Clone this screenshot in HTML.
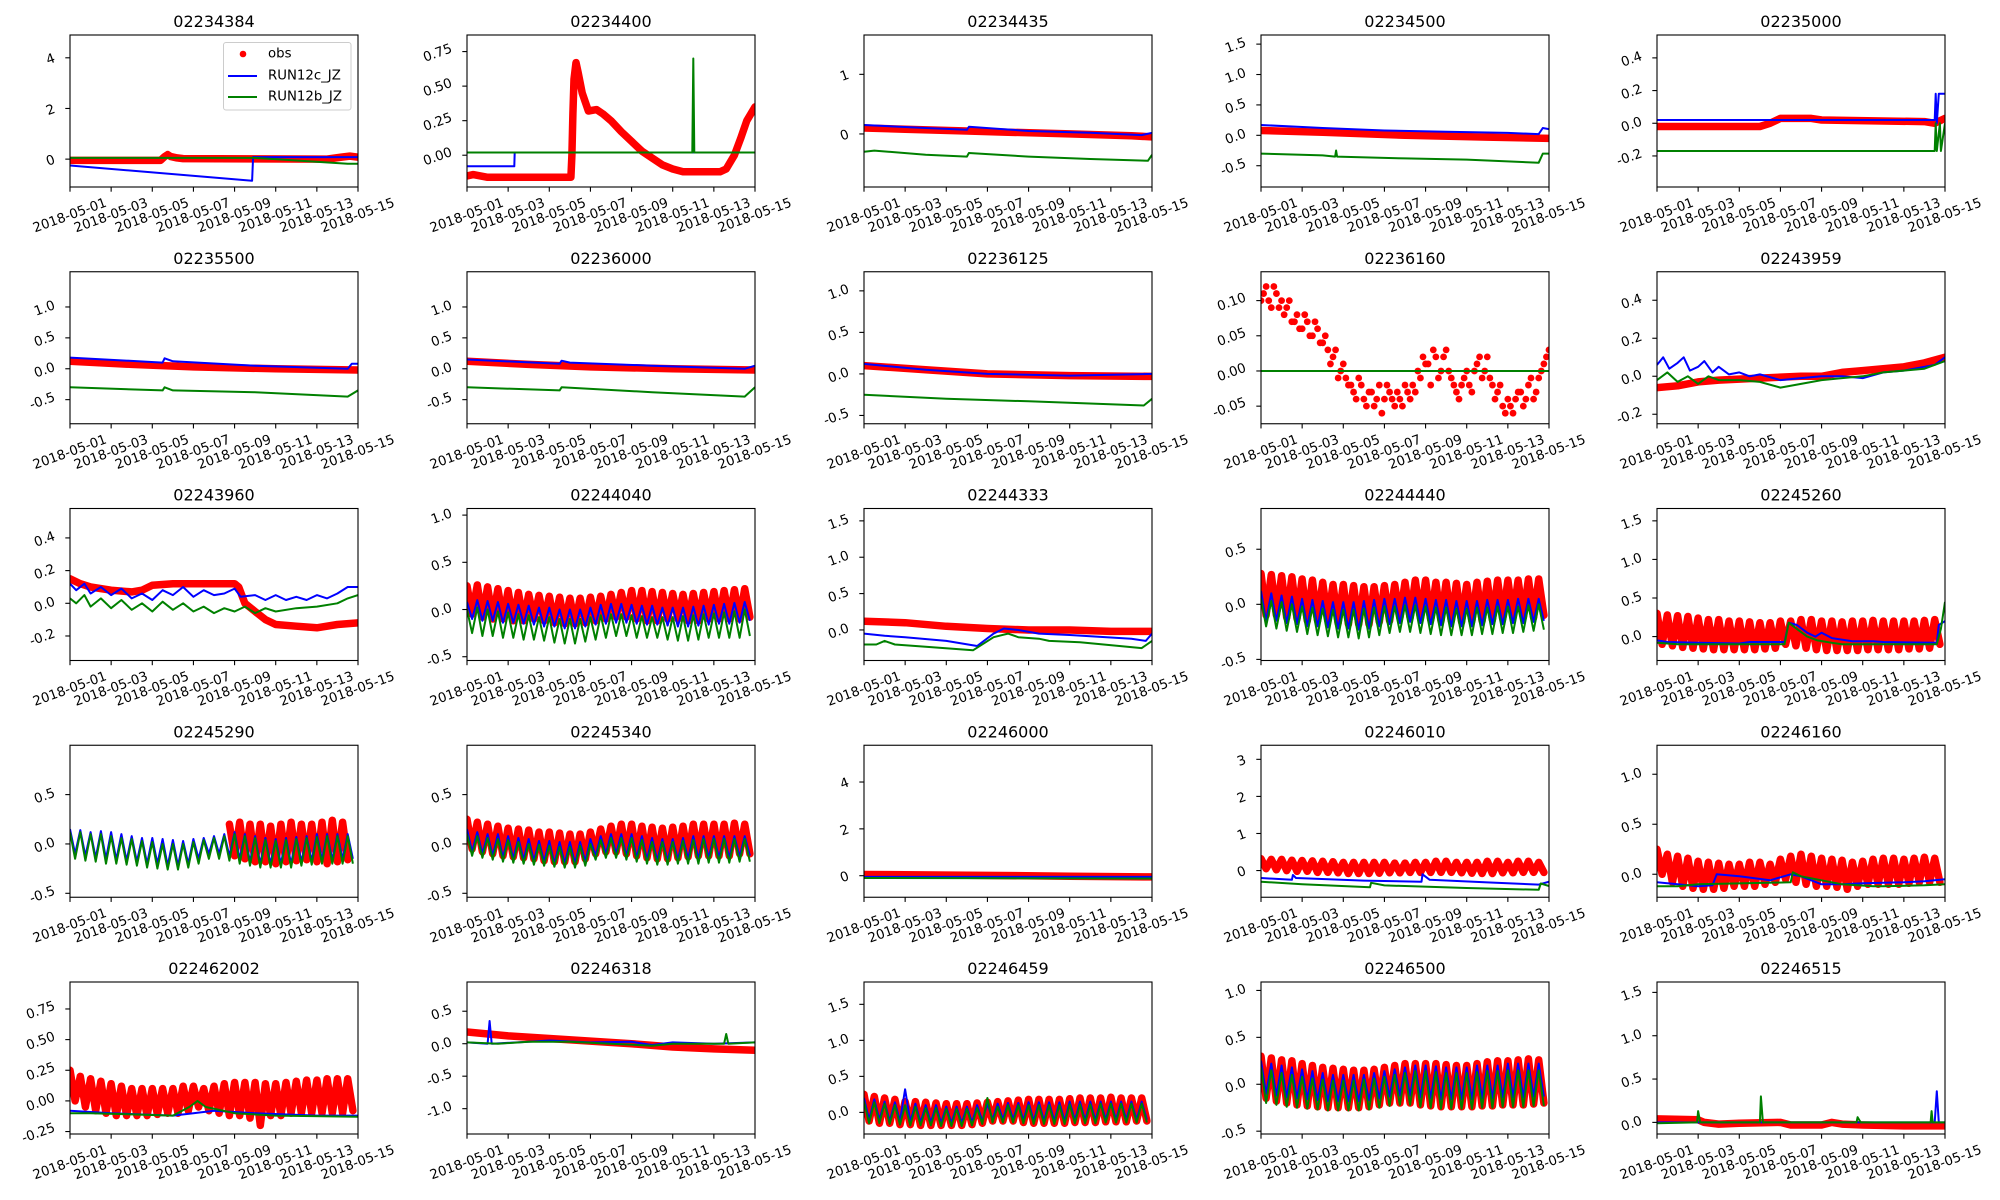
<!DOCTYPE html>
<html><head><meta charset="utf-8"><style>
html,body{margin:0;padding:0;background:#fff;}
svg{display:block;font-family:"DejaVu Sans","Liberation Sans",sans-serif;}
</style></head><body>
<svg id="fig" width="2000" height="1200" viewBox="0 0 2000 1200" xmlns="http://www.w3.org/2000/svg">
<rect width="2000" height="1200" fill="#fff"/>
</svg>
<script>
// ---- data ----
const xTickLabels = ["2018-05-01","2018-05-03","2018-05-05","2018-05-07","2018-05-09","2018-05-11","2018-05-13","2018-05-15"];
const xTickDays = [0,2,4,6,8,10,12,14];
const titles = ["02234384","02234400","02234435","02234500","02235000","02235500","02236000","02236125","02236160","02243959","02243960","02244040","02244333","02244440","02245260","02245290","02245340","02246000","02246010","02246160","022462002","02246318","02246459","02246500","02246515"];
const yRanges = [[-1.1,4.9],[-0.23,0.87],[-0.89,1.66],[-0.85,1.65],[-0.39,0.54],[-0.89,1.57],[-0.89,1.57],[-0.6,1.23],[-0.075,0.141],[-0.25,0.55],[-0.35,0.58],[-0.54,1.07],[-0.42,1.67],[-0.51,0.87],[-0.31,1.66],[-0.54,1.0],[-0.54,1.0],[-0.92,5.57],[-0.72,3.38],[-0.23,1.29],[-0.27,0.97],[-1.39,0.95],[-0.3,1.81],[-0.53,1.09],[-0.134,1.62]];
const yTicks = [[0,2,4],[0,0.25,0.5,0.75],[0,1],[-0.5,0,0.5,1,1.5],[-0.2,0,0.2,0.4],[-0.5,0,0.5,1],[-0.5,0,0.5,1],[-0.5,0,0.5,1],[-0.05,0,0.05,0.1],[-0.2,0,0.2,0.4],[-0.2,0,0.2,0.4],[-0.5,0,0.5,1],[0,0.5,1,1.5],[-0.5,0,0.5],[0,0.5,1,1.5],[-0.5,0,0.5],[-0.5,0,0.5],[0,2,4],[0,1,2,3],[0,0.5,1],[-0.25,0,0.25,0.5,0.75],[-1,-0.5,0,0.5],[0,0.5,1,1.5],[-0.5,0,0.5,1],[0,0.5,1,1.5]];
const yTickLabels = [["0","2","4"],["0.00","0.25","0.50","0.75"],["0","1"],["-0.5","0.0","0.5","1.0","1.5"],["-0.2","0.0","0.2","0.4"],["-0.5","0.0","0.5","1.0"],["-0.5","0.0","0.5","1.0"],["-0.5","0.0","0.5","1.0"],["-0.05","0.00","0.05","0.10"],["-0.2","0.0","0.2","0.4"],["-0.2","0.0","0.2","0.4"],["-0.5","0.0","0.5","1.0"],["0.0","0.5","1.0","1.5"],["-0.5","0.0","0.5"],["0.0","0.5","1.0","1.5"],["-0.5","0.0","0.5"],["-0.5","0.0","0.5"],["0","2","4"],["0","1","2","3"],["0.0","0.5","1.0"],["-0.25","0.00","0.25","0.50","0.75"],["-1.0","-0.5","0.0","0.5"],["0.0","0.5","1.0","1.5"],["-0.5","0.0","0.5","1.0"],["0.0","0.5","1.0","1.5"]];

const obsSeries = [
 {pts:[[0,-0.05],[4.4,-0.05],[4.6,0.1],[4.75,0.18],[4.9,0.1],[5.2,0.05],[5.5,0.02],[12.5,0.0],[13.2,0.08],[13.6,0.12],[14,0.08]]},
 {pts:[[0,-0.15],[0.3,-0.14],[1,-0.16],[2,-0.16],[3,-0.16],[4,-0.16],[5.05,-0.16],[5.1,0.0],[5.15,0.3],[5.2,0.55],[5.3,0.67],[5.4,0.6],[5.6,0.45],[5.9,0.32],[6.3,0.33],[6.6,0.3],[7,0.25],[7.5,0.17],[8,0.1],[8.5,0.03],[9,-0.02],[9.5,-0.07],[10,-0.1],[10.5,-0.12],[12.3,-0.12],[12.6,-0.1],[13,0.0],[13.3,0.12],[13.6,0.25],[14,0.35]]},
 {pts:[[0,0.1],[2,0.08],[5,0.05],[7,0.03],[10,0.0],[13,-0.03],[14,-0.05]]},
 {pts:[[0,0.08],[3,0.05],[7,0.0],[11,-0.03],[14,-0.05]]},
 {pts:[[0,-0.02],[5,-0.02],[5.5,0.0],[6,0.03],[7.5,0.03],[8,0.02],[13,0.01],[13.5,0.0],[14,0.03]]},
 {pts:[[0,0.12],[3,0.07],[6,0.03],[10,0.0],[14,-0.02]]},
 {pts:[[0,0.12],[3,0.07],[6,0.03],[10,0.0],[14,-0.02]]},
 {pts:[[0,0.1],[3,0.05],[6,0.0],[10,-0.02],[14,-0.03]]},
 {noisy:[0.10,0.12,0.09,0.11,0.10,0.09,0.07,0.08,0.06,0.07,0.05,0.06,0.04,0.03,0.02,-0.01,0.01,-0.02,-0.03,-0.01,-0.04,-0.03,-0.05,-0.02,-0.04,-0.03,-0.05,-0.04,-0.02,-0.04,-0.03,-0.01,0.01,-0.02,0.02,0.0,0.03,-0.01,-0.03,-0.02,0.0,-0.03,0.01,-0.01,0.02,-0.02,-0.03,-0.05,-0.04,-0.06,-0.03,-0.05,-0.02,-0.04,-0.01,0.01,0.03],
  noisy2:[0.11,0.10,0.12,0.09,0.08,0.10,0.07,0.06,0.08,0.05,0.07,0.04,0.05,0.01,0.03,0.0,-0.01,-0.02,-0.04,-0.02,-0.05,-0.03,-0.04,-0.06,-0.02,-0.04,-0.03,-0.05,-0.03,-0.02,0.0,0.02,0.01,0.03,-0.01,0.02,0.0,-0.02,-0.04,-0.01,-0.02,0.0,0.02,0.0,-0.01,-0.04,-0.02,-0.06,-0.05,-0.04,-0.03,-0.04,-0.01,-0.03,0.0,0.02]},
 {pts:[[0,-0.06],[1,-0.05],[2,-0.03],[3,-0.02],[5,-0.01],[7,0.0],[8,0.0],[9,0.02],[10,0.03],[11,0.04],[12,0.05],[13,0.07],[14,0.1]]},
 {pts:[[0,0.15],[0.5,0.12],[1,0.1],[2,0.08],[3,0.07],[3.5,0.08],[4,0.11],[5,0.12],[7,0.12],[8,0.12],[8.2,0.1],[8.5,0.0],[9,-0.05],[9.5,-0.1],[10,-0.13],[11,-0.14],[12,-0.15],[13,-0.13],[14,-0.12]]},
 {start:0,hi:[0.25,0.26,0.24,0.22,0.2,0.18,0.16,0.15,0.14,0.13,0.12,0.12,0.13,0.14,0.16,0.18,0.2,0.2,0.19,0.18,0.17,0.16,0.17,0.18,0.19,0.2,0.21,0.22],lo:[-0.05,-0.08,-0.1,-0.1,-0.12,-0.12,-0.1,-0.12,-0.14,-0.15,-0.15,-0.14,-0.12,-0.1,-0.08,-0.08,-0.1,-0.12,-0.12,-0.1,-0.1,-0.12,-0.12,-0.1,-0.1,-0.1,-0.1,-0.08]},
 {pts:[[0,0.12],[2,0.1],[4,0.05],[6,0.02],[8,0.0],[10,0.0],[12,-0.02],[14,-0.02]]},
 {start:0,hi:[0.28,0.27,0.26,0.25,0.23,0.22,0.2,0.18,0.18,0.17,0.16,0.16,0.17,0.18,0.2,0.22,0.22,0.2,0.2,0.19,0.18,0.2,0.21,0.22,0.22,0.22,0.23,0.23],lo:[-0.1,-0.1,-0.12,-0.13,-0.15,-0.15,-0.15,-0.17,-0.18,-0.18,-0.18,-0.16,-0.15,-0.12,-0.12,-0.12,-0.14,-0.15,-0.15,-0.16,-0.15,-0.15,-0.14,-0.13,-0.12,-0.12,-0.12,-0.1]},
 {start:0,hi:[0.3,0.28,0.27,0.26,0.24,0.22,0.22,0.2,0.2,0.19,0.18,0.18,0.2,0.2,0.22,0.22,0.2,0.2,0.19,0.2,0.2,0.21,0.2,0.2,0.2,0.2,0.21,0.22],lo:[-0.1,-0.12,-0.14,-0.15,-0.16,-0.17,-0.17,-0.17,-0.17,-0.17,-0.16,-0.15,-0.1,-0.12,-0.15,-0.17,-0.18,-0.18,-0.18,-0.18,-0.17,-0.17,-0.17,-0.17,-0.16,-0.16,-0.15,-0.1]},
 {start:7.75,hi:[0.2,0.22,0.2,0.2,0.18,0.2,0.22,0.2,0.2,0.22,0.24,0.22],lo:[-0.12,-0.15,-0.18,-0.18,-0.2,-0.18,-0.17,-0.16,-0.18,-0.2,-0.18,-0.16]},
 {start:0,hi:[0.25,0.22,0.2,0.18,0.16,0.15,0.14,0.12,0.12,0.11,0.1,0.1,0.12,0.15,0.18,0.2,0.2,0.18,0.17,0.16,0.17,0.18,0.2,0.2,0.2,0.2,0.21,0.2],lo:[-0.05,-0.08,-0.1,-0.12,-0.13,-0.14,-0.15,-0.17,-0.18,-0.18,-0.18,-0.15,-0.1,-0.08,-0.08,-0.1,-0.12,-0.14,-0.15,-0.15,-0.14,-0.13,-0.12,-0.12,-0.12,-0.12,-0.1,-0.1]},
 {pts:[[0,0.05],[5,0.02],[10,-0.02],[14,-0.05]]},
 {start:0,hi:[0.32,0.3,0.3,0.28,0.27,0.26,0.25,0.24,0.22,0.22,0.22,0.22,0.22,0.2,0.2,0.22,0.22,0.25,0.25,0.22,0.22,0.22,0.25,0.25,0.22,0.25,0.25,0.22],lo:[0.05,0.02,0.0,-0.02,-0.02,-0.05,-0.05,-0.06,-0.08,-0.08,-0.08,-0.07,-0.06,-0.06,-0.05,-0.05,-0.05,-0.05,-0.05,-0.06,-0.07,-0.08,-0.08,-0.06,-0.06,-0.05,-0.05,-0.05]},
 {start:0,hi:[0.25,0.2,0.18,0.16,0.13,0.12,0.11,0.1,0.1,0.12,0.12,0.1,0.15,0.18,0.2,0.18,0.16,0.15,0.14,0.12,0.13,0.15,0.16,0.16,0.15,0.16,0.17,0.16],lo:[0.0,-0.08,-0.12,-0.14,-0.15,-0.15,-0.14,-0.12,-0.12,-0.12,-0.1,-0.08,-0.05,-0.08,-0.1,-0.12,-0.12,-0.13,-0.15,-0.12,-0.1,-0.1,-0.1,-0.1,-0.09,-0.08,-0.08,-0.08]},
 {start:0,hi:[0.25,0.2,0.18,0.16,0.14,0.12,0.1,0.1,0.1,0.1,0.1,0.12,0.12,0.1,0.12,0.14,0.15,0.15,0.15,0.14,0.14,0.15,0.16,0.17,0.17,0.18,0.18,0.18],lo:[0.0,-0.05,-0.08,-0.1,-0.12,-0.12,-0.12,-0.12,-0.11,-0.1,-0.1,-0.08,-0.05,-0.08,-0.1,-0.12,-0.12,-0.14,-0.2,-0.12,-0.12,-0.1,-0.1,-0.1,-0.1,-0.1,-0.1,-0.08]},
 {pts:[[0,0.18],[2,0.12],[4,0.08],[6,0.04],[8,0.0],[10,-0.05],[12,-0.08],[14,-0.1]]},
 {start:0,hi:[0.25,0.22,0.2,0.18,0.15,0.15,0.14,0.13,0.12,0.12,0.12,0.13,0.14,0.15,0.16,0.17,0.18,0.18,0.18,0.18,0.19,0.2,0.2,0.2,0.21,0.2,0.2,0.2],lo:[-0.12,-0.15,-0.15,-0.17,-0.17,-0.18,-0.18,-0.18,-0.18,-0.18,-0.17,-0.15,-0.12,-0.12,-0.12,-0.14,-0.15,-0.15,-0.15,-0.15,-0.14,-0.14,-0.14,-0.13,-0.13,-0.13,-0.12,-0.12]},
 {start:0,hi:[0.3,0.28,0.26,0.25,0.22,0.2,0.18,0.17,0.16,0.15,0.15,0.16,0.18,0.2,0.22,0.22,0.22,0.22,0.21,0.2,0.2,0.22,0.24,0.25,0.25,0.26,0.27,0.26],lo:[-0.15,-0.18,-0.2,-0.22,-0.23,-0.24,-0.25,-0.25,-0.25,-0.25,-0.24,-0.22,-0.2,-0.2,-0.2,-0.22,-0.23,-0.24,-0.24,-0.24,-0.24,-0.23,-0.23,-0.22,-0.22,-0.22,-0.21,-0.2]},
 {pts:[[0,0.04],[2,0.03],[2.3,0.0],[3,-0.02],[4,-0.01],[6,0.0],[6.5,-0.03],[8,-0.03],[8.5,0.0],[9,-0.02],[10,-0.03],[12,-0.04],[14,-0.04]]}
];
const blueSeries = [
 {pts:[[0,-0.25],[8.85,-0.85],[8.9,0.08],[14,0.08]]},
 {pts:[[0,-0.08],[2.3,-0.08],[2.32,0.02],[14,0.02]]},
 {pts:[[0,0.15],[3,0.1],[5,0.07],[5.1,0.12],[8,0.05],[11,0.02],[13.5,-0.02],[14,0.02]]},
 {pts:[[0,0.17],[3,0.12],[6,0.08],[9,0.06],[12,0.04],[13.5,0.02],[13.7,0.12],[14,0.1]]},
 {pts:[[0,0.02],[13.5,0.02],[13.55,0.18],[13.6,0.0],[13.7,0.18],[14,0.18]]},
 {pts:[[0,0.18],[4.5,0.1],[4.6,0.17],[5,0.12],[9,0.05],[13.5,0.0],[13.7,0.08],[14,0.08]]},
 {pts:[[0,0.15],[4.5,0.08],[4.6,0.13],[5,0.1],[9,0.05],[13.5,0.0],[14,0.05]]},
 {pts:[[0,0.12],[3,0.05],[6,0.0],[10,-0.02],[14,0.0]]},
 {pts:[[0,0],[14,0]]},
 {pts:[[0,0.06],[0.3,0.1],[0.6,0.04],[1,0.07],[1.3,0.1],[1.6,0.03],[2,0.05],[2.3,0.08],[2.7,0.02],[3,0.05],[3.5,0.01],[4,0.02],[4.5,0.0],[5,0.01],[6,-0.02],[7,-0.01],[8,0.0],[9,0.0],[10,-0.01],[11,0.02],[12,0.03],[13,0.05],[13.5,0.06],[14,0.1]]},
 {pts:[[0,0.12],[0.3,0.08],[0.7,0.12],[1,0.06],[1.5,0.1],[2,0.05],[2.5,0.09],[3,0.03],[3.5,0.06],[4,0.02],[4.5,0.08],[5,0.05],[5.5,0.1],[6,0.04],[6.5,0.08],[7,0.05],[7.5,0.06],[8,0.09],[8.3,0.04],[9,0.05],[9.5,0.02],[10,0.05],[10.5,0.02],[11,0.04],[11.5,0.02],[12,0.05],[12.5,0.03],[13,0.06],[13.5,0.1],[14,0.1]]},
 {start:0,hi:[0.08,0.1,0.09,0.08,0.06,0.05,0.04,0.02,0.02,0.0,0.0,0.0,0.02,0.05,0.06,0.06,0.05,0.04,0.04,0.02,0.02,0.02,0.03,0.04,0.05,0.06,0.07,0.08],lo:[-0.1,-0.12,-0.12,-0.14,-0.14,-0.15,-0.16,-0.18,-0.18,-0.2,-0.2,-0.18,-0.16,-0.15,-0.14,-0.14,-0.15,-0.16,-0.16,-0.17,-0.18,-0.18,-0.17,-0.16,-0.15,-0.15,-0.14,-0.12]},
 {pts:[[0,-0.05],[1,-0.08],[2,-0.1],[4,-0.15],[5.5,-0.22],[6.3,-0.05],[6.8,0.02],[7.5,0.0],[8.5,-0.05],[10,-0.07],[13,-0.12],[13.7,-0.15],[14,-0.05]]},
 {start:0,hi:[0.12,0.1,0.08,0.07,0.05,0.04,0.03,0.02,0.02,0.02,0.03,0.04,0.05,0.05,0.06,0.06,0.05,0.04,0.04,0.03,0.03,0.03,0.04,0.04,0.04,0.05,0.05,0.05],lo:[-0.15,-0.15,-0.17,-0.18,-0.2,-0.2,-0.21,-0.22,-0.22,-0.23,-0.22,-0.2,-0.18,-0.17,-0.16,-0.17,-0.18,-0.19,-0.2,-0.2,-0.2,-0.19,-0.18,-0.18,-0.17,-0.17,-0.16,-0.15]},
 {pts:[[0,-0.05],[0.5,-0.07],[2,-0.08],[4,-0.09],[4.5,-0.07],[6.2,-0.07],[6.4,0.18],[6.8,0.15],[7.3,0.05],[7.7,0.0],[8,0.05],[8.5,-0.02],[9.5,-0.06],[10.5,-0.06],[11,-0.07],[13.6,-0.08],[13.7,0.15],[14,0.2]]},
 {start:0,hi:[0.15,0.14,0.12,0.13,0.12,0.1,0.08,0.06,0.06,0.05,0.04,0.03,0.05,0.06,0.08,0.1,0.12,0.1,0.08,0.06,0.05,0.06,0.07,0.08,0.1,0.1,0.1,0.1],lo:[-0.1,-0.12,-0.14,-0.15,-0.16,-0.17,-0.18,-0.2,-0.2,-0.22,-0.22,-0.2,-0.15,-0.1,-0.1,-0.12,-0.15,-0.18,-0.2,-0.2,-0.2,-0.2,-0.18,-0.17,-0.16,-0.16,-0.15,-0.15]},
 {start:0,hi:[0.15,0.12,0.1,0.1,0.08,0.06,0.05,0.03,0.03,0.02,0.02,0.02,0.05,0.08,0.1,0.1,0.1,0.08,0.06,0.05,0.05,0.06,0.08,0.08,0.08,0.08,0.08,0.08],lo:[-0.08,-0.1,-0.12,-0.14,-0.15,-0.16,-0.17,-0.18,-0.2,-0.2,-0.2,-0.18,-0.12,-0.1,-0.1,-0.12,-0.14,-0.16,-0.17,-0.17,-0.16,-0.15,-0.15,-0.14,-0.14,-0.14,-0.13,-0.12]},
 {pts:[[0,-0.05],[14,-0.05]]},
 {pts:[[0,-0.2],[1.5,-0.25],[1.55,-0.12],[1.7,-0.2],[5,-0.27],[7.8,-0.3],[7.85,-0.1],[8.2,-0.25],[11,-0.32],[13.5,-0.38],[14,-0.3]]},
 {pts:[[0,-0.08],[1,-0.1],[2,-0.12],[2.7,-0.11],[2.9,0.0],[4,-0.02],[5.5,-0.06],[6.5,0.0],[7,-0.02],[8,-0.1],[9,-0.1],[10,-0.09],[12,-0.08],[13,-0.07],[14,-0.05]]},
 {pts:[[0,-0.08],[2,-0.1],[5,-0.12],[6,-0.1],[7,-0.08],[9,-0.1],[12,-0.12],[14,-0.12]]},
 {pts:[[0,0.02],[1,0.0],[1.1,0.35],[1.2,0.0],[3,0.03],[4,0.05],[6,0.02],[8,0.03],[9,-0.02],[10,0.02],[12,0.0],[14,0.02]]},
 {start:0,hi:[0.2,0.18,0.15,0.14,0.32,0.12,0.1,0.1,0.08,0.08,0.08,0.1,0.12,0.12,0.13,0.13,0.14,0.14,0.14,0.14,0.15,0.15,0.15,0.15,0.15,0.15,0.15,0.15],lo:[-0.1,-0.1,-0.12,-0.12,-0.13,-0.14,-0.14,-0.15,-0.15,-0.15,-0.14,-0.12,-0.1,-0.1,-0.1,-0.11,-0.12,-0.12,-0.12,-0.12,-0.11,-0.11,-0.11,-0.1,-0.1,-0.1,-0.1,-0.1]},
 {start:0,hi:[0.25,0.22,0.2,0.18,0.16,0.14,0.12,0.1,0.1,0.1,0.1,0.12,0.14,0.16,0.18,0.2,0.2,0.19,0.18,0.18,0.18,0.2,0.2,0.2,0.22,0.22,0.22,0.22],lo:[-0.1,-0.12,-0.14,-0.15,-0.16,-0.17,-0.18,-0.18,-0.18,-0.18,-0.17,-0.15,-0.13,-0.12,-0.12,-0.14,-0.15,-0.16,-0.16,-0.16,-0.16,-0.15,-0.15,-0.14,-0.14,-0.14,-0.13,-0.13]},
 {pts:[[0,0.0],[13.5,0.0],[13.6,0.36],[13.7,0.0],[14,0.0]]}
];
const greenSeries = [
 {pts:[[0,0.05],[9,0.05],[13.5,-0.18],[14,-0.18]]},
 {pts:[[0,0.02],[10.95,0.02],[11,0.7],[11.05,0.02],[14,0.02]]},
 {pts:[[0,-0.3],[0.5,-0.28],[3,-0.35],[5,-0.38],[5.1,-0.32],[8,-0.38],[11,-0.42],[13.8,-0.45],[14,-0.35]]},
 {pts:[[0,-0.3],[3,-0.33],[3.6,-0.35],[3.65,-0.25],[3.7,-0.35],[7,-0.38],[10,-0.4],[13.5,-0.45],[13.7,-0.3],[14,-0.3]]},
 {pts:[[0,-0.17],[13.5,-0.17],[13.55,0.0],[13.6,-0.17],[13.75,0.0],[13.8,-0.17],[14,0.0]]},
 {pts:[[0,-0.3],[4.5,-0.35],[4.6,-0.3],[5,-0.35],[9,-0.38],[13.5,-0.45],[14,-0.35]]},
 {pts:[[0,-0.3],[4.5,-0.35],[4.6,-0.3],[9,-0.38],[13.5,-0.45],[14,-0.3]]},
 {pts:[[0,-0.25],[4,-0.3],[8,-0.33],[13.6,-0.38],[14,-0.3]]},
 {pts:[[0,0],[14,0]]},
 {pts:[[0,-0.02],[0.5,0.02],[1,-0.03],[1.5,0.0],[2,-0.04],[2.5,0.0],[3,-0.02],[4,-0.02],[5,-0.03],[6,-0.06],[7,-0.04],[8,-0.02],[9,-0.01],[10,0.0],[11,0.02],[12,0.03],[13,0.04],[14,0.08]]},
 {pts:[[0,0.03],[0.3,0.0],[0.7,0.05],[1,-0.02],[1.5,0.03],[2,-0.03],[2.5,0.02],[3,-0.04],[3.5,0.0],[4,-0.05],[4.5,0.01],[5,-0.04],[5.5,0.0],[6,-0.05],[6.5,-0.02],[7,-0.06],[7.5,-0.03],[8,-0.05],[8.5,-0.02],[9,-0.06],[9.5,-0.03],[10,-0.05],[11,-0.03],[12,-0.02],[13,0.0],[13.5,0.03],[14,0.05]]},
 {start:0,hi:[0.0,0.02,0.0,-0.02,-0.03,-0.05,-0.06,-0.08,-0.08,-0.1,-0.1,-0.1,-0.08,-0.06,-0.05,-0.05,-0.06,-0.07,-0.08,-0.08,-0.08,-0.07,-0.06,-0.05,-0.04,-0.03,-0.02,0.0],lo:[-0.25,-0.28,-0.28,-0.3,-0.3,-0.32,-0.32,-0.33,-0.35,-0.36,-0.36,-0.34,-0.32,-0.3,-0.28,-0.28,-0.3,-0.3,-0.3,-0.32,-0.33,-0.33,-0.32,-0.3,-0.3,-0.3,-0.3,-0.28]},
 {pts:[[0,-0.2],[0.6,-0.2],[1,-0.15],[1.5,-0.2],[3,-0.23],[5.3,-0.28],[6.3,-0.1],[7,-0.05],[7.5,-0.1],[8.5,-0.12],[9,-0.15],[10.5,-0.17],[13.5,-0.25],[14,-0.15]]},
 {start:0,hi:[0.05,0.03,0.02,0.0,-0.02,-0.03,-0.04,-0.05,-0.05,-0.05,-0.04,-0.03,-0.02,-0.02,-0.01,-0.01,-0.02,-0.03,-0.03,-0.04,-0.04,-0.03,-0.03,-0.02,-0.02,-0.02,-0.01,0.0],lo:[-0.2,-0.22,-0.24,-0.25,-0.27,-0.28,-0.29,-0.3,-0.3,-0.31,-0.3,-0.28,-0.26,-0.25,-0.25,-0.26,-0.27,-0.28,-0.28,-0.28,-0.28,-0.27,-0.27,-0.26,-0.26,-0.25,-0.24,-0.23]},
 {pts:[[0,-0.08],[1,-0.1],[4,-0.1],[6.2,-0.1],[6.4,0.18],[6.8,0.1],[7.3,0.0],[7.8,-0.05],[8.5,-0.08],[9,-0.1],[13.6,-0.1],[13.8,0.1],[14,0.45]]},
 {start:0,hi:[0.12,0.12,0.1,0.1,0.08,0.06,0.05,0.03,0.02,0.0,0.0,0.0,0.02,0.04,0.06,0.08,0.1,0.08,0.06,0.04,0.03,0.04,0.05,0.06,0.07,0.08,0.08,0.08],lo:[-0.15,-0.17,-0.18,-0.2,-0.2,-0.21,-0.22,-0.24,-0.25,-0.26,-0.26,-0.24,-0.2,-0.15,-0.15,-0.17,-0.2,-0.22,-0.24,-0.24,-0.24,-0.24,-0.22,-0.21,-0.2,-0.2,-0.2,-0.2]},
 {start:0,hi:[0.1,0.08,0.06,0.05,0.04,0.02,0.0,-0.01,-0.02,-0.03,-0.03,-0.02,0.0,0.04,0.06,0.06,0.06,0.04,0.02,0.02,0.02,0.03,0.04,0.05,0.05,0.05,0.05,0.05],lo:[-0.12,-0.14,-0.16,-0.18,-0.19,-0.2,-0.21,-0.22,-0.23,-0.24,-0.24,-0.22,-0.16,-0.14,-0.14,-0.16,-0.18,-0.2,-0.21,-0.21,-0.2,-0.2,-0.2,-0.19,-0.19,-0.19,-0.18,-0.18]},
 {pts:[[0,-0.1],[14,-0.12]]},
 {pts:[[0,-0.3],[2,-0.37],[5.3,-0.45],[5.35,-0.33],[6,-0.4],[10,-0.47],[13.5,-0.52],[13.6,-0.35],[14,-0.42]]},
 {pts:[[0,-0.12],[1,-0.12],[2,-0.1],[6.5,-0.08],[6.6,0.02],[7,-0.02],[8,-0.06],[9,-0.1],[10.5,-0.12],[11,-0.12],[13,-0.11],[14,-0.1]]},
 {pts:[[0,-0.1],[1,-0.1],[5,-0.12],[5.8,-0.05],[6.2,0.0],[6.6,-0.05],[8,-0.1],[10,-0.12],[14,-0.13]]},
 {pts:[[0,0.02],[1.5,0.0],[3,0.03],[5,0.03],[7,0.0],[9,-0.03],[10,0.0],[12.5,0.0],[12.6,0.15],[12.7,0.0],[14,0.02]]},
 {start:0,hi:[0.15,0.14,0.12,0.1,0.1,0.08,0.06,0.06,0.05,0.05,0.05,0.06,0.2,0.08,0.1,0.1,0.1,0.1,0.1,0.1,0.11,0.11,0.11,0.12,0.12,0.12,0.12,0.12],lo:[-0.15,-0.15,-0.16,-0.17,-0.18,-0.18,-0.18,-0.19,-0.19,-0.19,-0.18,-0.16,-0.14,-0.14,-0.14,-0.15,-0.16,-0.16,-0.16,-0.16,-0.15,-0.15,-0.15,-0.14,-0.14,-0.14,-0.14,-0.14]},
 {start:0,hi:[0.18,0.15,0.12,0.1,0.08,0.06,0.05,0.04,0.04,0.04,0.05,0.06,0.08,0.1,0.12,0.14,0.14,0.13,0.12,0.12,0.12,0.13,0.14,0.14,0.15,0.15,0.15,0.15],lo:[-0.2,-0.22,-0.24,-0.25,-0.26,-0.27,-0.28,-0.28,-0.28,-0.28,-0.27,-0.25,-0.23,-0.22,-0.22,-0.24,-0.25,-0.26,-0.26,-0.26,-0.26,-0.25,-0.25,-0.24,-0.24,-0.24,-0.23,-0.23]},
 {pts:[[0,-0.01],[1.95,0.0],[2.0,0.13],[2.1,0.0],[5,0.0],[5.05,0.3],[5.15,0.0],[9.7,0.0],[9.75,0.06],[9.9,0.0],[13.3,0.0],[13.35,0.13],[13.4,0.0],[14,0.0]]}
];

// ---- layout ----
const NS = "http://www.w3.org/2000/svg";
const svg = document.getElementById('fig');
const colLefts = [70,467,864,1261,1657];
const W = 288, H = 152;
const ROW0 = 35, ROWSTEP = 236.75;
const DAYS = 14;

function mk(tag, attrs, parent){
  const e = document.createElementNS(NS, tag);
  for (const k in attrs) e.setAttribute(k, attrs[k]);
  (parent||svg).appendChild(e);
  return e;
}
function toPts(s){
  if (s.pts) return s.pts;
  if (s.noisy){
    const a = s.noisy.map((v,i)=>[i*DAYS/(s.noisy.length-1), v]);
    if (s.noisy2) s.noisy2.forEach((v,i)=>a.push([(i+0.5)*DAYS/(s.noisy.length-1), v]));
    return a;
  }
  const out = [];
  for (let i=0;i<s.hi.length;i++){
    out.push([s.start + i*0.5, s.hi[i]]);
    out.push([s.start + i*0.5 + 0.25, s.lo[i]]);
  }
  return out;
}

titles.forEach((title, p) => {
  const r = Math.floor(p/5), c = p%5;
  const L = colLefts[c], T = ROW0 + r*ROWSTEP, B = T + H;
  const [y0, y1] = yRanges[p];
  const sx = d => L + d/DAYS*W;
  const sy = v => B - (v - y0)/(y1 - y0)*H;

  const g = mk('g', {});
  
  

  const cp = mk('clipPath', {id:'clip'+p}, g);
  mk('rect', {x:L, y:T, width:W, height:H}, cp);

  const t = mk('text', {x:L+W/2, y:T-8, 'text-anchor':'middle', 'font-size':'16', fill:'#000'}, g);
  
  
  t.textContent = title;

  const plot = mk('g', {'clip-path':'url(#clip'+p+')'}, g);
  
  

  const o = obsSeries[p];
  const op = toPts(o);
  if (o.noisy){
    op.forEach(([d,v]) => {
      const c1 = mk('circle', {cx:sx(d), cy:sy(v), r:3.4, fill:'#ff0000'}, plot);
      
      
    });
  } else {
    const pl = mk('polyline', {points: op.map(([d,v])=>sx(d).toFixed(1)+','+sy(v).toFixed(1)).join(' '), fill:'none', stroke:'#ff0000', 'stroke-width':7.5, 'stroke-linejoin':'round', 'stroke-linecap':'round'}, plot);
    
    
  }
  [[blueSeries[p], '#0000ff', 'run12c-line'], [greenSeries[p], '#008000', 'run12b-line']].forEach(([s, col, nm]) => {
    const pts = toPts(s);
    const pl = mk('polyline', {points: pts.map(([d,v])=>sx(d).toFixed(1)+','+sy(v).toFixed(1)).join(' '), fill:'none', stroke:col, 'stroke-width':2, 'stroke-linejoin':'round'}, plot);
    
    
  });

  const fr = mk('rect', {x:L, y:T, width:W, height:H, fill:'none', stroke:'#000', 'stroke-width':1.1}, g);
  
  

  xTickDays.forEach((d, i) => {
    const x = sx(d);
    mk('line', {x1:x, y1:B, x2:x, y2:B+4.7, stroke:'#000', 'stroke-width':1.1}, g);
    const cy = B + 29;
    const tx = mk('text', {x:x, y:cy, 'text-anchor':'middle', 'dominant-baseline':'central', 'font-size':'13.3', fill:'#000', transform:`rotate(-20 ${x} ${cy})`}, g);
    
    
    tx.textContent = xTickLabels[i];
  });
  yTicks[p].forEach((v, i) => {
    const y = sy(v);
    mk('line', {x1:L-4.7, y1:y, x2:L, y2:y, stroke:'#000', 'stroke-width':1.1}, g);
    const ty = mk('text', {x:0, y:0, 'text-anchor':'middle', 'dominant-baseline':'central', 'font-size':'13.3', fill:'#000'}, g);
    
    
    ty.textContent = yTickLabels[p][i];
    let w = 7.4 * yTickLabels[p][i].length;
    try { w = ty.getComputedTextLength() || w; } catch(e){}
    const bw = w*Math.cos(Math.PI/9) + 13.3*Math.sin(Math.PI/9);
    const cx = L - 13 - bw/2, cy = y + 2;
    ty.setAttribute('x', cx); ty.setAttribute('y', cy);
    ty.setAttribute('transform', `rotate(-20 ${cx} ${cy})`);
  });

  if (p === 0){
    const lg = mk('g', {}, g);
    
    
    mk('rect', {x:223.5, y:42.5, width:127.5, height:67.5, rx:2.5, fill:'#fff', 'fill-opacity':0.8, stroke:'#cccccc', 'stroke-width':1}, lg);
    const e1 = mk('circle', {cx:243, cy:54, r:3.3, fill:'#ff0000'}, lg);
    
    
    const e2 = mk('line', {x1:228, y1:76, x2:257, y2:76, stroke:'#0000ff', 'stroke-width':2}, lg);
    
    
    const e3 = mk('line', {x1:228, y1:97, x2:257, y2:97, stroke:'#008000', 'stroke-width':2}, lg);
    
    
    [['obs',54,'legend-obs-label'],['RUN12c_JZ',76,'legend-run12c-label'],['RUN12b_JZ',97,'legend-run12b-label']].forEach(([s,yy,nm]) => {
      const lt = mk('text', {x:268, y:yy, 'dominant-baseline':'central', 'font-size':'13.3', fill:'#000'}, lg);
      
      
      lt.textContent = s;
    });
  }
});
</script>
</body></html>
